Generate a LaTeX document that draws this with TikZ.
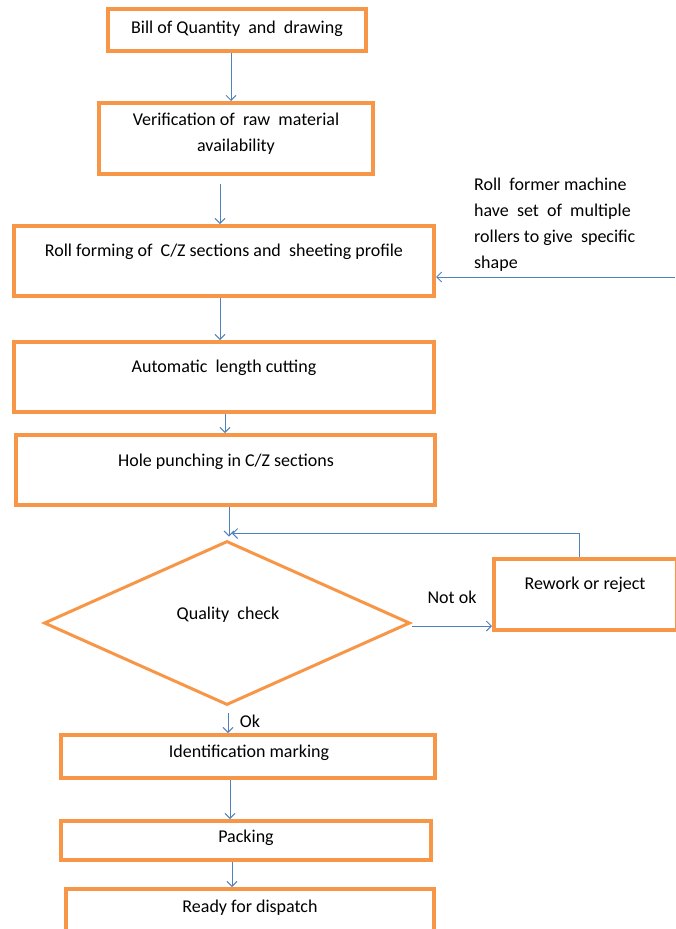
\documentclass[tikz,border=0pt]{standalone}
\usepackage{fontspec}
\setmainfont{Carlito}
\usetikzlibrary{arrows.meta,shapes.geometric}
\definecolor{boxorange}{HTML}{F79646}
\definecolor{arrblue}{HTML}{4F81BD}
\begin{document}
\begin{tikzpicture}[x=1pt,y=-1pt,
  box/.style={draw=boxorange,line width=4pt,rectangle,inner sep=0pt,fill=white},
  qbox/.style={draw=boxorange,line width=3pt,diamond,inner sep=0pt,minimum width=366pt,minimum height=164pt},
  txt/.style={font=\fontsize{18}{26}\selectfont,inner sep=0pt,align=center,text=black},
  arr/.style={draw=arrblue,line width=0.9pt,-{Straight Barb[length=5pt,width=10pt]}}]
\useasboundingbox (0,0) rectangle (675,929);
% boxes
\node[box,minimum width=258pt,minimum height=42pt] (b1) at (237,30) {};
\node[box,minimum width=274pt,minimum height=71pt] (b2) at (236,138.5) {};
\node[box,minimum width=420pt,minimum height=70pt] (b3) at (224,261) {};
\node[box,minimum width=420pt,minimum height=70pt] (b4) at (224,377) {};
\node[box,minimum width=419pt,minimum height=70pt] (b5) at (225.5,470) {};
\node[qbox] (q) at (227,623) {};
\node[box,minimum width=183pt,minimum height=71pt] (r) at (585.5,594.5) {};
\node[box,minimum width=374pt,minimum height=43pt] (b6) at (248,756.5) {};
\node[box,minimum width=370pt,minimum height=39pt] (b7) at (246,840.5) {};
\node[box,minimum width=368pt,minimum height=42pt] (b8) at (250,910) {};
% texts
\node[txt] (t1) at (237,29) {Bill of Quantity\ \ and\ \ drawing};
\node[txt] (t2) at (236,134) {Verification of\ \ raw\ \ material\\availability};
\node[txt] (t3) at (224,252) {Roll forming of\ \ C/Z sections and\ \ sheeting profile};
\node[txt] (t4) at (224,368) {Automatic\ \ length cutting};
\node[txt] (t5) at (226,462) {Hole punching in C/Z sections};
\node[txt] (tq) at (228,615) {Quality\ \ check};
\node[txt] (tr) at (585,585) {Rework or reject};
\node[txt] (t6) at (249,753) {Identification marking};
\node[txt] (t7) at (246,838) {Packing};
\node[txt] (t8) at (250,908) {Ready for dispatch};
\node[txt,align=left,anchor=west] (side) at (474,225) {Roll\ \ former machine\\have\ \ set\ \ of\ \ multiple\\rollers to give\ \ specific\\shape};
\node[txt] (notok) at (452,597) {Not ok};
\node[txt] (ok) at (250,721) {Ok};
% connectors
\coordinate (src) at (675,277);
\draw[arr] ([xshift=-6pt]b1.south) -- ([xshift=-5pt]b2.north);
\draw[arr,shorten <=8pt] ([xshift=-16pt]b2.south) -- ([xshift=-4pt]b3.north);
\draw[arr] ([xshift=-4pt]b3.south) -- ([xshift=-4pt]b4.north);
\draw[arr] ([xshift=1pt]b4.south) -- ([xshift=-0.5pt]b5.north);
\draw[arr] ([xshift=3.5pt]b5.south) -- ([xshift=2pt,yshift=3pt]q.north);
\draw[arr] ([yshift=-3pt]q.east) -- ([yshift=-3pt]q.east -| r.west);
\draw[arr] ([xshift=-6pt]r.north) |- ([xshift=5pt,yshift=6pt]q.north);
\draw[arr] (src) -- (src -| b3.east);
\draw[arr,shorten <=6pt] ([xshift=1pt]q.south) -- ([xshift=-20pt]b6.north);
\draw[arr] ([xshift=-18pt]b6.south) -- ([xshift=-16pt]b7.north);
\draw[arr] ([xshift=-14pt]b7.south) -- ([xshift=-18pt]b8.north);
\end{tikzpicture}
\end{document}
